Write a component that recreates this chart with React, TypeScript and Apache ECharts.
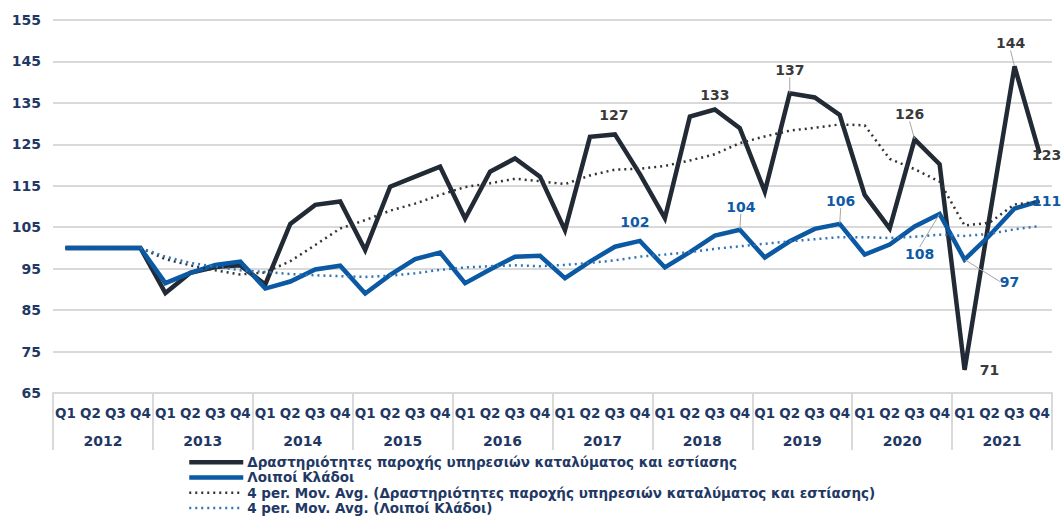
import React, { useEffect, useRef } from "react";
import * as echarts from "echarts";

const years = ["2012", "2013", "2014", "2015", "2016", "2017", "2018", "2019", "2020", "2021"];
const quarterNames = ["Q1", "Q2", "Q3", "Q4"];
const quarters: string[] = [];
years.forEach((y) => quarterNames.forEach((q) => quarters.push(q + " " + y)));

const yTicks = [65, 75, 85, 95, 105, 115, 125, 135, 145, 155];

const nameAcc = "Δραστηριότητες παροχής υπηρεσιών καταλύματος και εστίασης";
const nameOther = "Λοιποί Κλάδοι";
const nameMaAcc = "4 per. Mov. Avg. (Δραστηριότητες παροχής υπηρεσιών καταλύματος και εστίασης)";
const nameMaOther = "4 per. Mov. Avg. (Λοιποί Κλάδοι)";

const accValues = [
  100, 100, 100, 100,
  89.1, 94, 95.4, 95.8,
  91.2, 105.8, 110.4, 111.2,
  99.5, 114.8, 117.2, 119.6,
  107.1, 118.4, 121.6, 117.2,
  104.3, 126.8, 127.4, 117.8,
  107.2, 131.7, 133.4, 128.9,
  113.6, 137.3, 136.3, 132.1,
  112.8, 104.7, 126.2, 120.2,
  70.6, 107.5, 143.8, 122.8,
];

const otherValues = [
  100, 100, 100, 100,
  91.5, 94, 95.9, 96.7,
  90.2, 91.9, 94.8, 95.7,
  89, 93.5, 97.3, 98.9,
  91.5, 94.8, 97.9, 98.1,
  92.7, 96.7, 100.3, 101.7,
  95.3, 99, 103, 104.4,
  97.7, 101.6, 104.6, 105.8,
  98.4, 100.8, 105.2, 108.2,
  97.2, 103, 109.5, 111.3,
];

const maAccValues = [
  null, null, null, 100,
  97.3, 95.8, 94.6, 93.6,
  94.1, 96.8, 100.7, 104.7,
  106.7, 109, 110.7, 112.8,
  114.7, 115.6, 116.7, 116.1,
  115.4, 117.5, 118.9, 119.1,
  119.8, 121.1, 122.6, 125.3,
  126.9, 128.3, 129, 129.8,
  129.6, 121.5, 119, 116,
  105.4, 106.1, 110.5, 111.2,
];

const maOtherValues = [
  null, null, null, 100,
  97.9, 96.4, 95.5, 94.6,
  94.2, 93.7, 93.4, 93.2,
  93, 93.3, 93.9, 94.7,
  95.3, 95.6, 95.8, 95.6,
  95.9, 96.4, 97, 97.9,
  98.4, 99, 99.8, 100.4,
  101, 101.6, 102.1, 102.6,
  102.6, 102.4, 102.7, 103.2,
  102.9, 103.4, 104.5, 105.3,
];

// indices of labelled points
const accLabelled = [22, 26, 29, 34, 36, 38, 39];
const otherLabelled = [23, 27, 31, 35, 36, 39];

// label placement (offset of label centre from the point) and guide lines
const labelOffsets: Record<string, [number, number]> = {
  "0-22": [-1, -19],
  "0-26": [0, -15],
  "0-29": [0, -23],
  "0-34": [-5, -25],
  "0-36": [25, 0],
  "0-38": [-4, -23],
  "0-39": [7, 2],
  "1-23": [-5, -19],
  "1-27": [1, -23],
  "1-31": [1, -23],
  "1-35": [-20, 40],
  "1-36": [45, 22],
  "1-39": [7, 0],
};
const guideLines: Record<string, boolean> = {
  "0-29": true, "0-34": true, "0-38": true,
  "1-27": true, "1-31": true, "1-35": true, "1-36": true,
};

const FONT = "DejaVu Sans";
const NAVY = "#1f3864";
const DARK = "#222a35";
const BLUE = "#0b58a3";

function buildData(values: number[], labelled: number[], sIdx: number, color: string) {
  return values.map((v, i) => {
    if (labelled.indexOf(i) < 0) return v;
    const key = sIdx + "-" + i;
    return {
      value: v,
      label: {
        show: true,
        position: "inside",
        formatter: () => String(Math.round(v)),
        color,
        fontFamily: FONT,
        fontWeight: "bold",
        fontSize: 14,
      },
      labelLine: {
        show: !!guideLines[key],
        lineStyle: { color: "#a6a6a6", width: 1 },
      },
    };
  });
}

export default function App() {
  const ref = useRef<HTMLDivElement>(null);

  useEffect(() => {
    if (!ref.current) return;
    const chart = echarts.init(ref.current, undefined, { renderer: "svg" });
    chart.setOption({
      animation: false,
      backgroundColor: "#ffffff",
      grid: { left: 53, right: 9, top: 20, bottom: 123, containLabel: false },
      legend: {
        orient: "vertical",
        left: 187,
        top: 455,
        itemWidth: 54,
        itemHeight: 2,
        itemGap: 1,
        padding: 0,
        itemStyle: { opacity: 0 },
        lineStyle: { width: "inherit" },
        textStyle: {
          color: NAVY,
          fontFamily: FONT,
          fontWeight: "bold",
          fontSize: 13.5,
          lineHeight: 14.3,
          padding: [0, 0, 0, -1],
        },
        data: [nameAcc, nameOther, nameMaAcc, nameMaOther],
      },
      xAxis: [
        {
          type: "category",
          data: quarters,
          boundaryGap: true,
          axisLine: { show: true, lineStyle: { color: "#d9d9d9", width: 2 } },
          axisTick: { show: false },
          axisLabel: {
            interval: 0,
            margin: 13,
            color: NAVY,
            fontFamily: FONT,
            fontWeight: "bold",
            fontSize: 13.5,
            formatter: (v: string) => v.split(" ")[0],
          },
        },
        {
          type: "category",
          data: years,
          position: "bottom",
          boundaryGap: true,
          axisLine: { show: false },
          axisTick: {
            show: true,
            interval: 0,
            length: 57,
            lineStyle: { color: "#d9d9d9", width: 2 },
          },
          axisLabel: {
            interval: 0,
            margin: 41,
            color: NAVY,
            fontFamily: FONT,
            fontWeight: "bold",
            fontSize: 14,
          },
        },
      ],
      yAxis: {
        type: "value",
        min: 65,
        max: 155,
        axisLine: { show: false },
        axisTick: { show: false, customValues: yTicks },
        axisLabel: {
          customValues: yTicks,
          margin: 12,
          color: NAVY,
          fontFamily: FONT,
          fontWeight: "bold",
          fontSize: 14,
        },
        splitLine: { show: true, lineStyle: { color: "#d9d9d9", width: 2 } },
      },
      labelLayout: (params: any) => {
        const key = params.seriesIndex + "-" + params.dataIndex;
        const off = labelOffsets[key];
        if (!off) return {};
        return { dx: off[0], dy: off[1] };
      },
      series: [
        {
          name: nameAcc,
          type: "line",
          data: buildData(accValues, accLabelled, 0, "#3a3a3a"),
          symbol: "circle",
          symbolSize: 1,
          showSymbol: true,
          itemStyle: { color: DARK },
          lineStyle: { color: DARK, width: 4.5, join: "miter" },
          z: 3,
        },
        {
          name: nameOther,
          type: "line",
          data: buildData(otherValues, otherLabelled, 1, "#0e5aa7"),
          symbol: "circle",
          symbolSize: 1,
          showSymbol: true,
          itemStyle: { color: BLUE },
          lineStyle: { color: BLUE, width: 4.5, join: "miter" },
          z: 4,
        },
        {
          name: nameMaAcc,
          type: "line",
          data: maAccValues,
          showSymbol: false,
          symbol: "none",
          itemStyle: { color: "#333333" },
          lineStyle: { color: "#333333", width: 2.5, type: [2, 4] },
          z: 5,
        },
        {
          name: nameMaOther,
          type: "line",
          data: maOtherValues,
          showSymbol: false,
          symbol: "none",
          itemStyle: { color: "#2e75b6" },
          lineStyle: { color: "#2e75b6", width: 2.5, type: [2, 4] },
          z: 5,
        },
      ],
    });
    return () => chart.dispose();
  }, []);

  return (
    <div
      ref={ref}
      style={{ position: "fixed", left: 0, top: 0, width: 1061, height: 516, background: "#fff" }}
    />
  );
}
